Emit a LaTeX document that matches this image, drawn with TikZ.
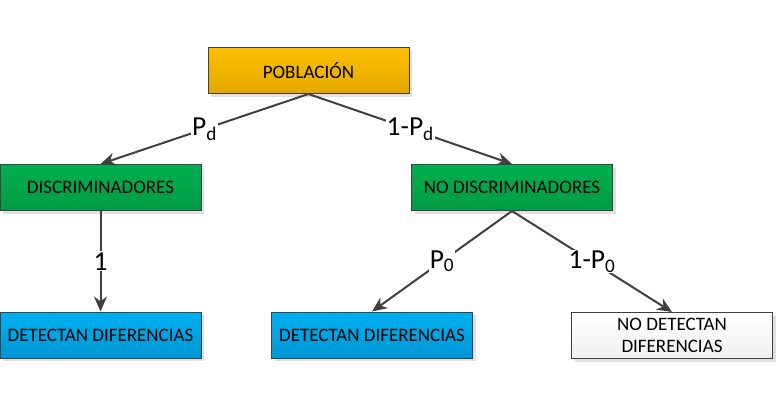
\documentclass[tikz,border=0pt]{standalone}
\usepackage{fontspec}
\setmainfont{Carlito}
\usepackage{xcolor}
\usetikzlibrary{arrows.meta, shadows}

\definecolor{edgegray}{HTML}{404040}
\definecolor{popTop}{HTML}{FFC000}
\definecolor{popBot}{HTML}{E2A800}
\definecolor{grnTop}{HTML}{00B050}
\definecolor{grnBot}{HTML}{009A44}
\definecolor{bluTop}{HTML}{00B0F0}
\definecolor{bluBot}{HTML}{0096D4}

\begin{document}
\begin{tikzpicture}[x=1pt, y=-1pt,
    box/.style={rectangle, draw=edgegray, line width=1pt, minimum width=201pt, minimum height=46pt, align=center, inner sep=2pt,
        font=\fontsize{19}{22}\selectfont,
        drop shadow={shadow xshift=3pt, shadow yshift=-3pt, fill=black!12, opacity=1}},
    yellowbox/.style={box, top color=popTop, bottom color=popBot},
    greenbox/.style={box, top color=grnTop, bottom color=grnBot},
    bluebox/.style={box, top color=bluTop, bottom color=bluBot},
    whitebox/.style={box, top color=white, bottom color=black!6},
    line/.style={draw=edgegray, line width=2pt, -{Stealth[length=15pt, width=13pt]}},
    prob/.style={fill=white, inner sep=1pt, font=\fontsize{27.5}{30}\selectfont}
]
    \useasboundingbox (0,0) rectangle (776,408);

    % Root
    \node[yellowbox] (POB) at (308.5,70.5) {POBLACIÓN};

    % First level
    \node[greenbox] (DISC) at (100.5,187.5) {DISCRIMINADORES};
    \node[greenbox] (NODISC) at (512,187.5) {NO DISCRIMINADORES};

    % Second level
    \node[bluebox] (DET1) at (100.5,335) {DETECTAN DIFERENCIAS};
    \node[bluebox] (DET2) at (372,335) {DETECTAN DIFERENCIAS};
    \node[whitebox] (NODET) at (672,335.5) {NO DETECTAN\\DIFERENCIAS};

    % Connectors
    \draw[line] (POB.south) -- node[prob] {P\textsubscript{d}} (DISC.north);
    \draw[line] (POB.south) -- node[prob] {1-P\textsubscript{d}} (NODISC.north);
    \draw[line] (DISC.south) -- node[prob] {1} (DET1.north);
    \draw[line] (NODISC.south) -- node[prob] {P\textsubscript{0}} (DET2.north);
    \draw[line] (NODISC.south) -- node[prob] {1-P\textsubscript{0}} (NODET.north);
\end{tikzpicture}
\end{document}
